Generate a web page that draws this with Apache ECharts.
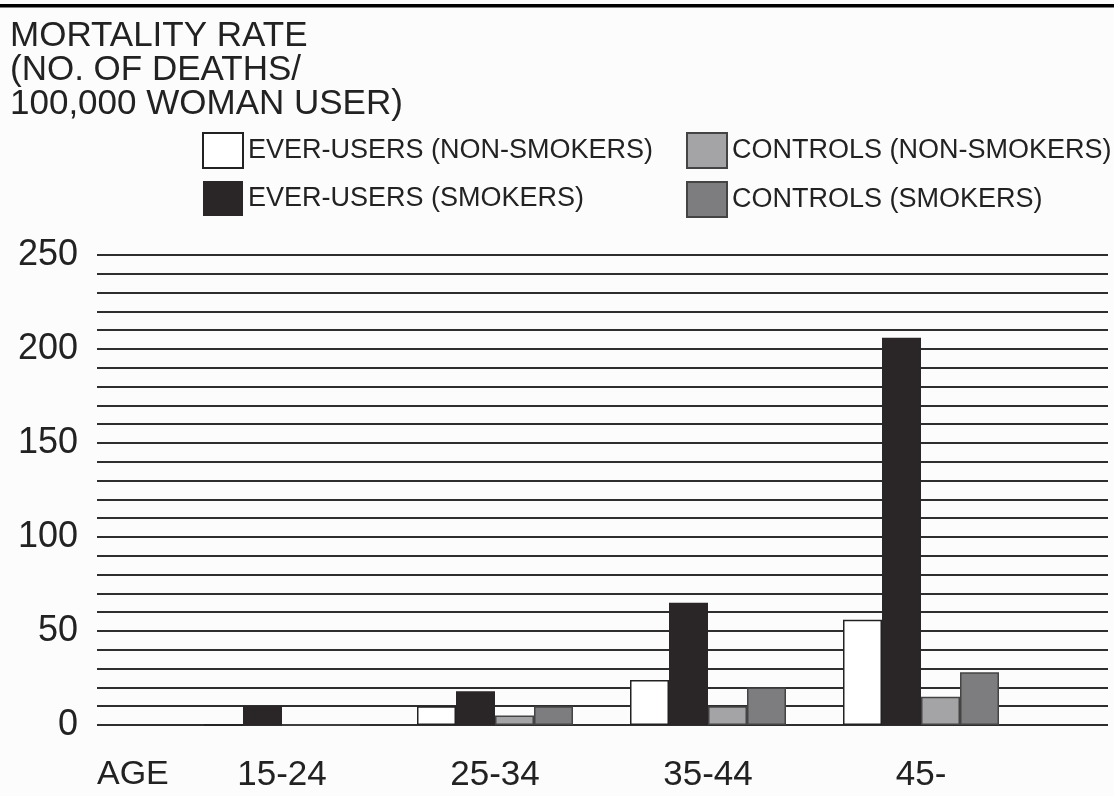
<!DOCTYPE html>
<html>
<head>
<meta charset="utf-8">
<script src="https://cdn.jsdelivr.net/npm/echarts@6/dist/echarts.min.js"></script>
<style>
  html, body { margin: 0; padding: 0; background: #fcfcfc; }
  #chart { width: 1114px; height: 796px; }
</style>
</head>
<body>
<div id="chart"></div>
<script>
const ageGroups = ['15-24', '25-34', '35-44', '45-'];
const everUsersNonSmokers = [0, 10, 24, 56];
const everUsersSmokers = [10, 18, 65, 206];
const controlsNonSmokers = [0, 5, 10, 15];
const controlsSmokers = [0, 10, 20, 28];
const seriesNames = ['EVER-USERS (NON-SMOKERS)', 'EVER-USERS (SMOKERS)', 'CONTROLS (NON-SMOKERS)', 'CONTROLS (SMOKERS)'];
const yTickLabels = ['0', '50', '100', '150', '200', '250'];

const FONT = '"Liberation Sans", Arial, Helvetica, sans-serif';
const chart = echarts.init(document.getElementById('chart'));

function barSeries(name, data, fill, border, bw) {
  return {
    name: name,
    type: 'bar',
    xAxisIndex: 1,
    yAxisIndex: 1,
    data: data,
    barWidth: 39,
    barGap: '0%',
    itemStyle: { color: fill, borderColor: border, borderWidth: bw },
    emphasis: { disabled: true },
    z: 5
  };
}

const legendCommon = {
  orient: 'vertical',
  top: 132,
  padding: 0,
  itemWidth: 40,
  itemHeight: 35,
  itemGap: 12,
  icon: 'rect',
  selectedMode: false,
  textStyle: { fontFamily: FONT, fontSize: 27, color: '#222', padding: [8, 0, 0, 0] }
};

chart.setOption({
  backgroundColor: '#fcfcfc',
  animation: false,
  title: {
    text: 'MORTALITY RATE\n(NO. OF DEATHS/\n100,000 WOMAN USER)',
    left: 10,
    top: 19,
    padding: 0,
    textStyle: { fontFamily: FONT, fontSize: 35, fontWeight: 'normal', color: '#222', lineHeight: 34 }
  },
  legend: [
    Object.assign({}, legendCommon, { data: [seriesNames[0], seriesNames[1]], left: 202 }),
    Object.assign({}, legendCommon, { data: [seriesNames[2], seriesNames[3]], left: 686 })
  ],
  grid: [
    { left: 97, right: 6, top: 255, bottom: 71 },
    { left: 175.5, right: 86.5, top: 255, bottom: 71 }
  ],
  xAxis: [
    { type: 'value', gridIndex: 0, min: 0, max: 1, show: false },
    {
      type: 'category',
      gridIndex: 1,
      data: ageGroups,
      axisLine: { show: false },
      axisTick: { show: false },
      axisLabel: { fontFamily: FONT, fontSize: 35, color: '#222', margin: 33, lineHeight: 35 }
    }
  ],
  yAxis: [
    {
      type: 'value',
      gridIndex: 0,
      min: 0,
      max: 250,
      interval: 10,
      axisLine: { show: false },
      axisTick: { show: false },
      axisLabel: {
        fontFamily: FONT,
        fontSize: 36,
        color: '#222',
        margin: 19,
        formatter: function (v) {
          const s = String(v);
          return yTickLabels.indexOf(s) >= 0 ? s : '';
        }
      },
      splitLine: { show: true, lineStyle: { color: '#2e2e2e', width: 1.9 } }
    },
    { type: 'value', gridIndex: 1, min: 0, max: 250, interval: 10, show: false, splitLine: { show: false } }
  ],
  graphic: [
    { type: 'rect', left: 0, top: 4, shape: { width: 1114, height: 3.5 }, style: { fill: '#000' } },
    { type: 'text', left: 97, top: 758, style: { text: 'AGE', font: '34px ' + FONT, fill: '#222' } }
  ],
  series: [
    barSeries(seriesNames[0], everUsersNonSmokers, '#ffffff', '#222', 1.5),
    barSeries(seriesNames[1], everUsersSmokers, '#2a2526', '#2a2526', 0),
    barSeries(seriesNames[2], controlsNonSmokers, '#a4a4a6', '#444', 1.5),
    barSeries(seriesNames[3], controlsSmokers, '#7d7d80', '#444', 1.5)
  ]
});
</script>
</body>
</html>
